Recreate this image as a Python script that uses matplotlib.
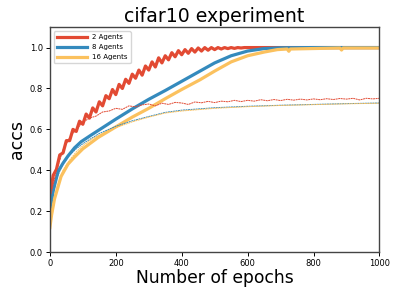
import numpy as np
import matplotlib
matplotlib.use("Agg")
import matplotlib.pyplot as plt

# colours of the three runs
colors = ["#E24A33", "#348ABD", "#FBC15E"]
labels = ["2 Agents", "8 Agents", "16 Agents"]

# training accuracy, 2 agents (noisy, read every 10 epochs)
epochs_red_train = list(range(0, 610, 10)) + [650, 700, 750, 800, 850, 900, 950, 1000]
acc_red_train = [0.27, 0.375, 0.405, 0.475, 0.485, 0.545, 0.545, 0.60, 0.59, 0.64,
                 0.625, 0.675, 0.655, 0.705, 0.685, 0.735, 0.715, 0.765, 0.75, 0.795,
                 0.77, 0.82, 0.80, 0.845, 0.825, 0.87, 0.85, 0.89, 0.865, 0.91,
                 0.89, 0.93, 0.905, 0.95, 0.925, 0.96, 0.94, 0.975, 0.955, 0.985,
                 0.965, 0.99, 0.972, 0.995, 0.978, 0.998, 0.983, 1.0, 0.987, 1.0,
                 0.99, 1.0, 0.993, 1.0, 0.995, 1.0, 0.996, 1.0, 0.998, 1.0,
                 1.0, 1.0, 1.0, 1.0, 1.0, 1.0, 1.0, 1.0, 1.0]

epochs_blue_train = [0, 5, 10, 25, 40, 55, 75, 95, 125, 150, 200, 250, 300, 350,
                     400, 450, 500, 550, 600, 650, 700, 800, 900, 1000]
acc_blue_train = [0.20, 0.25, 0.30, 0.395, 0.435, 0.47, 0.51, 0.54, 0.572, 0.598,
                  0.65, 0.70, 0.747, 0.79, 0.835, 0.88, 0.925, 0.96, 0.983,
                  0.995, 0.999, 1.0, 1.0, 1.0]

epochs_yellow_train = [0, 5, 14, 34, 55, 75, 100, 146, 200, 250, 300, 350, 400,
                       456, 500, 550, 600, 650, 690, 720, 725, 730, 790, 850,
                       880, 885, 890, 950, 1000]
acc_yellow_train = [0.12, 0.18, 0.26, 0.37, 0.43, 0.465, 0.505, 0.56, 0.612,
                    0.66, 0.703, 0.75, 0.795, 0.843, 0.885, 0.93, 0.96,
                    0.978, 0.99, 0.993, 0.982, 0.993, 0.995, 0.997, 0.998,
                    0.988, 0.998, 0.998, 0.998]

# test accuracy (thin lines)
epochs_red_test = [0, 20, 40, 60, 80, 100, 120, 140, 160, 180, 200, 220, 240,
                   260, 280, 300, 320, 340, 360, 380, 400, 420, 440, 460, 480,
                   500, 520, 540, 560, 580, 600, 620, 640, 660, 680, 700, 720,
                   740, 760, 780, 800, 820, 840, 860, 880, 900, 920, 940, 960,
                   980, 1000]
acc_red_test = [0.26, 0.40, 0.50, 0.56, 0.60, 0.635, 0.655, 0.665, 0.685, 0.69,
                0.703, 0.698, 0.715, 0.71, 0.72, 0.724, 0.715, 0.728, 0.722, 0.732,
                0.729, 0.722, 0.734, 0.73, 0.737, 0.731, 0.738, 0.735, 0.742,
                0.736, 0.742, 0.738, 0.745, 0.74, 0.746, 0.741, 0.747, 0.743,
                0.748, 0.744, 0.749, 0.745, 0.75, 0.746, 0.751, 0.748, 0.752,
                0.744, 0.752, 0.749, 0.752]

epochs_blue_test = [0, 20, 40, 60, 80, 100, 125, 150, 200, 250, 300, 350, 400,
                    500, 600, 700, 800, 900, 1000]
acc_blue_test = [0.20, 0.36, 0.43, 0.475, 0.505, 0.53, 0.555, 0.58, 0.615, 0.642,
                 0.663, 0.683, 0.694, 0.706, 0.713, 0.718, 0.722, 0.726, 0.729]

epochs_yellow_test = [0, 20, 40, 60, 80, 100, 125, 150, 200, 250, 300, 350, 400,
                      500, 600, 700, 800, 900, 1000]
acc_yellow_test = [0.12, 0.31, 0.40, 0.45, 0.49, 0.52, 0.55, 0.573, 0.608, 0.637,
                   0.66, 0.68, 0.69, 0.703, 0.711, 0.717, 0.721, 0.725, 0.728]

train = [(epochs_red_train, acc_red_train),
         (epochs_blue_train, acc_blue_train),
         (epochs_yellow_train, acc_yellow_train)]
test = [(epochs_red_test, acc_red_test),
        (epochs_blue_test, acc_blue_test),
        (epochs_yellow_test, acc_yellow_test)]

fig = plt.figure(figsize=(3.99, 2.98), dpi=100)
ax = fig.add_axes([0.125, 0.154, 0.826, 0.755])

for (x, y), c, lab in zip(train, colors, labels):
    ax.plot(x, y, color=c, lw=2.3, label=lab)
for (x, y), c in zip(test, colors):
    ax.plot(x, y, color=c, lw=0.7, ls=(0, (2, 0.6)))

ax.set_xlim(0, 1000)
ax.set_ylim(0, 1.1)
ax.set_yticks([0.0, 0.2, 0.4, 0.6, 0.8, 1.0])
ax.tick_params(labelsize=6, length=3, width=0.7, pad=2)
for s in ax.spines.values():
    s.set_color("#444444")
    s.set_linewidth(1.0)

ax.set_title("cifar10 experiment", fontsize=13.6, pad=4)
ax.set_xlabel("Number of epochs", fontsize=12.3, labelpad=1)
ax.set_ylabel("accs", fontsize=12.5, labelpad=3)
ax.legend(loc="upper left", fontsize=5, handlelength=4.3, labelspacing=0.6,
          borderaxespad=0.6)

fig.savefig("out.png", dpi=100)
